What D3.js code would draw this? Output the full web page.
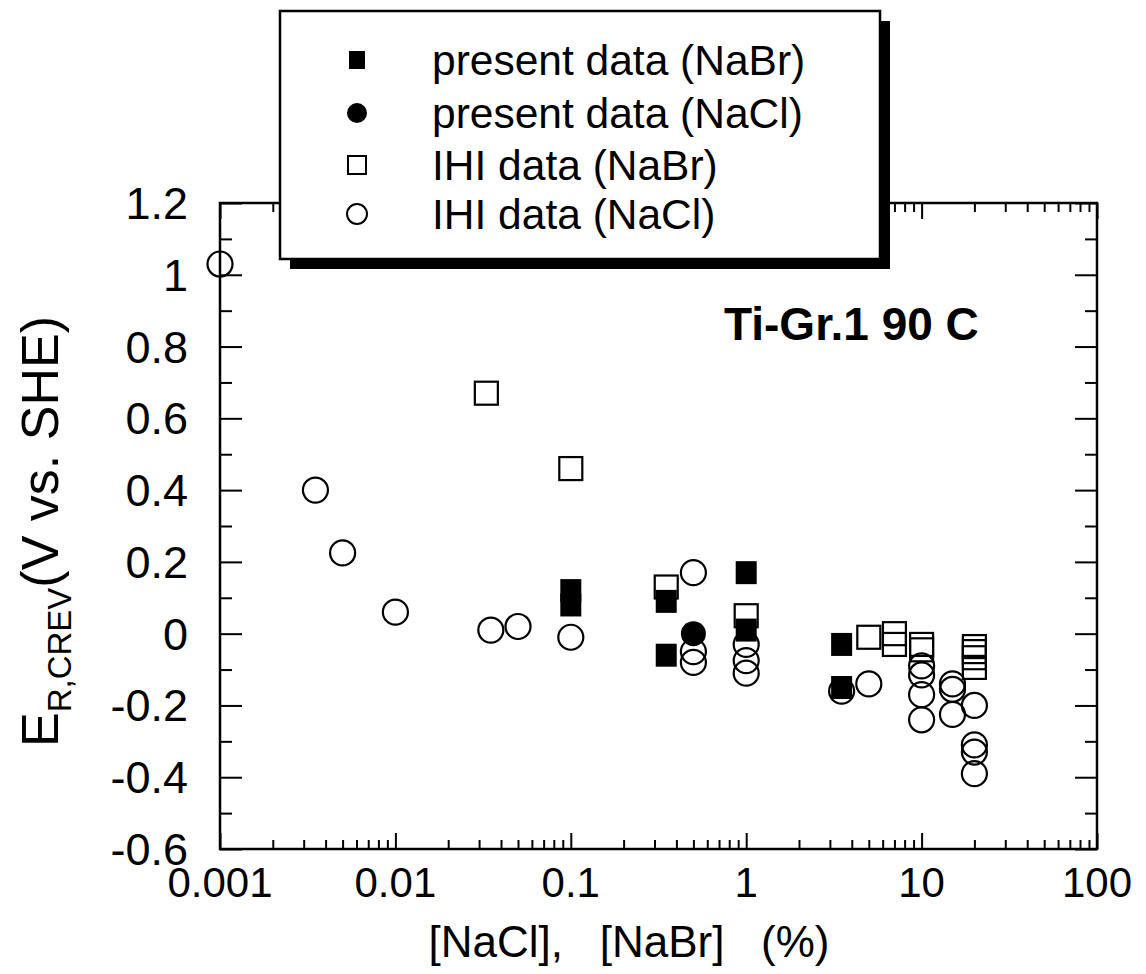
<!DOCTYPE html>
<html>
<head>
<meta charset="UTF-8">
<title>Ti-Gr.1 90 C</title>
<script src="https://d3js.org/d3.v7.min.js"></script>
<style>
  body { margin: 0; background: #fff; }
  svg text { font-family: "Liberation Sans", Arial, sans-serif; fill: #000; }
  .axis path, .axis line { stroke: #000; }
</style>
</head>
<body>
<svg id="chart" width="1146" height="974"></svg>
<script>
// data: [concentration %, E (V vs SHE)]
const presentNaBr = [[0.1,0.12],[0.1,0.08],[0.35,0.09],[0.35,-0.06],[1,0.17],[1,0.01],[3.5,-0.03],[3.5,-0.15]];
const presentNaCl = [[0.5,0.0]];
const ihiNaBr = [[0.033,0.67],[0.1,0.46],[0.35,0.13],[1,0.05],[5,-0.01],[7,0.0],[7,-0.03],
                 [10,-0.03],[10,-0.045],[20,-0.036],[20,-0.05],[20,-0.067],[20,-0.094]];
const ihiNaCl = [[0.001,1.03],[0.0035,0.40],[0.005,0.225],[0.01,0.06],[0.035,0.01],[0.05,0.02],
                 [0.1,-0.01],[0.5,0.17],[0.5,-0.05],[0.5,-0.08],[1,-0.03],[1,-0.075],[1,-0.11],
                 [3.5,-0.16],[5,-0.14],[10,-0.09],[10,-0.115],[10,-0.17],[10,-0.24],
                 [15,-0.14],[15,-0.155],[15,-0.225],[20,-0.2],[20,-0.31],[20,-0.33],[20,-0.39]];

const xTicks = [0.001, 0.01, 0.1, 1, 10, 100];
const xTickLabels = ["0.001", "0.01", "0.1", "1", "10", "100"];
const yTicks = [1.2, 1, 0.8, 0.6, 0.4, 0.2, 0, -0.2, -0.4, -0.6];
const yTickLabels = ["1.2", "1", "0.8", "0.6", "0.4", "0.2", "0", "-0.2", "-0.4", "-0.6"];
const legendLabels = ["present data (NaBr)", "present data (NaCl)", "IHI data (NaBr)", "IHI data (NaCl)"];

const L = 220, R = 1097, T = 203, B = 849;
const svg = d3.select("#chart");

const x = d3.scaleLog().domain([0.001, 100]).range([L, R]);
const y = d3.scaleLinear().domain([-0.6, 1.2]).range([B, T]);

// minor positions
const xMinor = x.ticks().filter(v => !xTicks.includes(v));
const yMinor = d3.range(-5, 12, 2).map(v => v / 10);

// axes (ticks point inward)
const axes = svg.append("g").attr("class", "axis");
axes.append("g").attr("transform", `translate(0,${B})`)
  .call(d3.axisBottom(x).tickValues(xTicks).tickSize(-16).tickFormat(""));
axes.append("g").attr("transform", `translate(0,${B})`)
  .call(d3.axisBottom(x).tickValues(xMinor).tickSize(-9).tickFormat(""));
axes.append("g").attr("transform", `translate(0,${T})`)
  .call(d3.axisTop(x).tickValues(xTicks).tickSize(-16).tickFormat(""));
axes.append("g").attr("transform", `translate(0,${T})`)
  .call(d3.axisTop(x).tickValues(xMinor).tickSize(-9).tickFormat(""));
axes.append("g").attr("transform", `translate(${L},0)`)
  .call(d3.axisLeft(y).tickValues(yTicks).tickSize(-22).tickFormat(""));
axes.append("g").attr("transform", `translate(${L},0)`)
  .call(d3.axisLeft(y).tickValues(yMinor).tickSize(-12).tickFormat(""));
axes.append("g").attr("transform", `translate(${R},0)`)
  .call(d3.axisRight(y).tickValues(yTicks).tickSize(-22).tickFormat(""));
axes.append("g").attr("transform", `translate(${R},0)`)
  .call(d3.axisRight(y).tickValues(yMinor).tickSize(-12).tickFormat(""));
axes.selectAll("path").attr("d", null);
axes.selectAll("line").attr("stroke-width", 2);
svg.append("rect").attr("x", L).attr("y", T).attr("width", R - L).attr("height", B - T)
  .attr("fill", "none").attr("stroke", "#000").attr("stroke-width", 2.5);

// tick labels
svg.selectAll(".xl").data(xTicks).enter().append("text")
  .attr("x", d => x(d)).attr("y", 897)
  .attr("text-anchor", "middle").attr("font-size", 42)
  .text((d, i) => xTickLabels[i]);
svg.selectAll(".yl").data(yTicks).enter().append("text")
  .attr("x", 188).attr("y", d => y(d) + 16)
  .attr("text-anchor", "end").attr("font-size", 45)
  .text((d, i) => yTickLabels[i]);

// axis titles
svg.append("text").attr("x", 629).attr("y", 957).attr("text-anchor", "middle")
  .attr("font-size", 44).attr("xml:space", "preserve").style("white-space", "pre")
  .text("[NaCl],   [NaBr]   (%)");
const yt = svg.append("text").attr("transform", "translate(58,747) rotate(-90)").attr("font-size", 52);
yt.append("tspan").text("E");
yt.append("tspan").attr("font-size", 33).attr("dy", 13).text("R,CREV");
yt.append("tspan").attr("dy", -13).text("(V vs. SHE)");

svg.append("text").attr("x", 724).attr("y", 340).attr("font-size", 46).attr("font-weight", "bold")
  .text("Ti-Gr.1 90 C");

// markers
const pts = svg.append("g");
const sq = 23, rc = 12.5;
pts.selectAll(".ihic").data(ihiNaCl).enter().append("circle")
  .attr("cx", d => x(d[0])).attr("cy", d => y(d[1])).attr("r", rc)
  .attr("fill", "none").attr("stroke", "#000").attr("stroke-width", 2.2);
pts.selectAll(".ihib").data(ihiNaBr).enter().append("rect")
  .attr("x", d => x(d[0]) - sq / 2).attr("y", d => y(d[1]) - sq / 2)
  .attr("width", sq).attr("height", sq)
  .attr("fill", "none").attr("stroke", "#000").attr("stroke-width", 2.2);
pts.selectAll(".pc").data(presentNaCl).enter().append("circle")
  .attr("cx", d => x(d[0])).attr("cy", d => y(d[1])).attr("r", rc).attr("fill", "#000");
pts.selectAll(".pb").data(presentNaBr).enter().append("rect")
  .attr("x", d => x(d[0]) - sq / 2 + 1).attr("y", d => y(d[1]) - sq / 2)
  .attr("width", sq - 2).attr("height", sq).attr("fill", "#000");

// legend box with drop shadow
const lg = svg.append("g");
lg.append("rect").attr("x", 290).attr("y", 21).attr("width", 600).attr("height", 248).attr("fill", "#000");
lg.append("rect").attr("x", 280).attr("y", 11).attr("width", 600).attr("height", 248)
  .attr("fill", "#fff").attr("stroke", "#000").attr("stroke-width", 2.5);
const rowsY = [60, 113, 165, 214];
lg.append("rect").attr("x", 349).attr("y", rowsY[0] - 9).attr("width", 16).attr("height", 18).attr("fill", "#000");
lg.append("circle").attr("cx", 357).attr("cy", rowsY[1]).attr("r", 10).attr("fill", "#000");
lg.append("rect").attr("x", 348).attr("y", rowsY[2] - 9).attr("width", 18).attr("height", 18)
  .attr("fill", "none").attr("stroke", "#000").attr("stroke-width", 2);
lg.append("circle").attr("cx", 357).attr("cy", rowsY[3]).attr("r", 10)
  .attr("fill", "none").attr("stroke", "#000").attr("stroke-width", 2);
lg.selectAll(".lt").data(legendLabels).enter().append("text")
  .attr("x", 432).attr("y", (d, i) => rowsY[i] + 15).attr("font-size", 42.5)
  .text(d => d);
</script>
</body>
</html>
